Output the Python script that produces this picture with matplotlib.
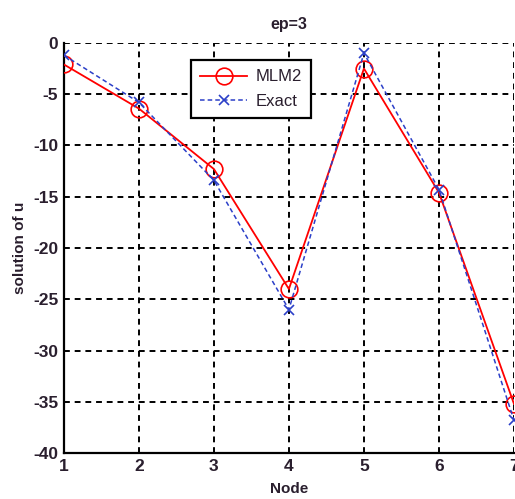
import matplotlib.pyplot as plt

# node indices and the two solution curves
nodes = [1, 2, 3, 4, 5, 6, 7]
mlm2 = [-2.1, -6.4, -12.3, -24.0, -2.5, -14.6, -35.2]
exact = [-1.2, -5.8, -13.4, -26.0, -1.0, -14.3, -36.8]

plt.rcParams['font.family'] = ['Liberation Sans', 'DejaVu Sans']
plt.rcParams['axes.unicode_minus'] = False

fig = plt.figure(figsize=(5.15, 4.99), dpi=100)
ax = fig.add_axes([0.124, 0.092, 0.874, 0.822])

ax.plot(nodes, mlm2, color='red', linestyle='-', linewidth=1.3,
        marker='o', markersize=12, markerfacecolor='none',
        markeredgecolor='red', markeredgewidth=1.2, label='MLM2', zorder=3)
ax.plot(nodes, exact, color='#2b3fc8', linestyle=(0, (3, 2)), linewidth=1.1,
        marker='x', markersize=7, markeredgewidth=1.2, label='Exact', zorder=3)

ax.set_xlim(1, 7)
ax.set_ylim(-40, 0)
ax.set_xticks(nodes)
ax.set_yticks(range(-40, 1, 5))

ax.grid(True, color='black', linestyle=(0, (3, 2.5)), linewidth=1.4)
ax.spines['top'].set_visible(False)
ax.spines['right'].set_visible(False)
ax.spines['left'].set_linewidth(1.6)
ax.spines['bottom'].set_linewidth(1.6)
ax.tick_params(direction='in', length=0, labelsize=12.5, pad=4,
               labelcolor='#2a1f2e')
for lbl in ax.get_xticklabels() + ax.get_yticklabels():
    lbl.set_fontweight('bold')

ax.set_title('ep=3', fontsize=11.5, fontweight='bold', color='#2a1f2e', pad=10)
ax.set_xlabel('Node', fontsize=11, fontweight='bold', color='#2a1f2e', labelpad=6)
ax.set_ylabel('solution of u', fontsize=11, fontweight='bold', color='#2a1f2e', labelpad=4)

leg = ax.legend(loc='upper left', bbox_to_anchor=(0.264, 0.978), fontsize=12,
                frameon=True, fancybox=False, edgecolor='black',
                handlelength=2.8, handletextpad=0.5, borderpad=0.55,
                labelspacing=0.55)
leg.get_frame().set_linewidth(1.6)
leg.get_frame().set_alpha(1)
for t in leg.get_texts():
    t.set_color('#2a1f2e')

fig.savefig('out.png', dpi=100)
